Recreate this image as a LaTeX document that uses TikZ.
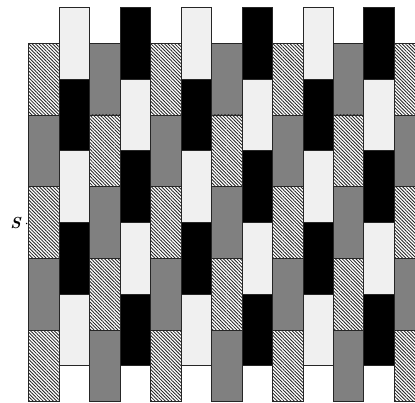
\documentclass[tikz,border=0pt]{standalone}
\usetikzlibrary{patterns.meta}
\begin{document}
\begin{tikzpicture}[x=1pt,y=-1pt,
  blk/.style={draw=black!85, line width=0.8pt},
  lightblk/.style={blk, fill=black!6},
  darkblk/.style={blk, fill=black},
  grayblk/.style={blk, fill=black!50},
  hatchblk/.style={blk, pattern={Lines[angle=-45,distance=2.4pt,line width=0.85pt]}, pattern color=black!85},
  lbl/.style={font=\fontsize{16}{18}\selectfont\bfseries\itshape, inner sep=0pt}]
\useasboundingbox (0,0) rectangle (415,402);
\begin{scope}
\clip (0,0) rectangle (415,402);
\foreach \i/\yo/\sa/\sb in {
  1/43.2/hatchblk/grayblk, 2/7.3/lightblk/darkblk,
  3/43.2/grayblk/hatchblk, 4/7.3/darkblk/lightblk,
  5/43.2/hatchblk/grayblk, 6/7.3/lightblk/darkblk,
  7/43.2/grayblk/hatchblk, 8/7.3/darkblk/lightblk,
  9/43.2/hatchblk/grayblk, 10/7.3/lightblk/darkblk,
  11/43.2/grayblk/hatchblk, 12/7.3/darkblk/lightblk,
  13/43.2/hatchblk/grayblk}{
  \foreach \j in {0,...,4}{
    \pgfmathsetmacro\xl{28.7+30.47*(\i-1)}
    \pgfmathsetmacro\yt{\yo+71.7*\j}
    \ifodd\j \def\st{\sb}\else \def\st{\sa}\fi
    \draw[\st] (\xl,\yt) rectangle ++(30.47,71.7);
  }
}
\end{scope}
\node[lbl] (s) at (15.5,223) {S};
\fill (26.6,223.5) circle (0.8pt);
\end{tikzpicture}
\end{document}
